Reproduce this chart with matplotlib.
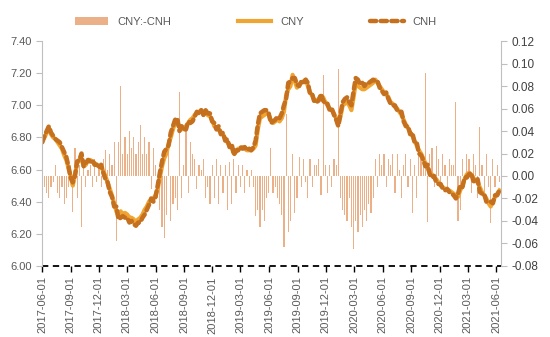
import matplotlib
matplotlib.use("Agg")
import matplotlib.pyplot as plt
import matplotlib.dates as mdates
from matplotlib.ticker import MultipleLocator, FormatStrFormatter
import pandas as pd

plt.rcParams["font.family"] = ["Liberation Sans", "DejaVu Sans"]
plt.rcParams["axes.unicode_minus"] = False

# 周度数据, 2017-06-02 起 (每周五)
cny = [
    # 2017
    6.78, 6.80, 6.83, 6.86, 6.82,
    6.80, 6.79, 6.77, 6.75,
    6.73, 6.69, 6.66, 6.61,
    6.56, 6.50, 6.57, 6.64, 6.66,
    6.67, 6.62, 6.63, 6.66,
    6.66, 6.65, 6.64, 6.63,
    6.62, 6.62, 6.59, 6.56, 6.52,
    # 2018
    6.48, 6.44, 6.39, 6.34,
    6.31, 6.34, 6.32, 6.33,
    6.32, 6.30, 6.30, 6.29, 6.27,
    6.29, 6.30, 6.32, 6.35,
    6.37, 6.40, 6.41, 6.42,
    6.44, 6.48, 6.55, 6.62, 6.67,
    6.70, 6.76, 6.80, 6.85,
    6.89, 6.90, 6.86, 6.85, 6.86,
    6.87, 6.89, 6.91, 6.92,
    6.94, 6.95, 6.96, 6.97,
    6.95, 6.95, 6.94, 6.93, 6.91,
    6.87, 6.86, 6.85, 6.83,
    # 2019
    6.82, 6.79, 6.77, 6.75,
    6.74, 6.70, 6.71, 6.73,
    6.73, 6.74, 6.73, 6.72, 6.72,
    6.72, 6.73, 6.75, 6.85,
    6.92, 6.93, 6.94, 6.95, 6.94,
    6.91, 6.89, 6.90, 6.91,
    6.90, 6.92, 6.96, 7.06,
    7.10, 7.12, 7.19, 7.15, 7.11,
    7.13, 7.14, 7.15, 7.16,
    7.12, 7.08, 7.06, 7.03,
    7.03, 7.04, 7.06, 7.05, 7.02,
    7.00, 6.98, 6.97, 6.95,
    # 2020
    6.92, 6.89, 6.93, 7.00, 7.01,
    7.02, 7.00, 6.97, 7.05,
    7.14, 7.12, 7.11, 7.10,
    7.10, 7.11, 7.12, 7.13,
    7.14, 7.16, 7.14, 7.12, 7.10,
    7.08, 7.07, 7.05, 7.02,
    7.01, 6.99, 6.98, 6.96, 6.94,
    6.91, 6.88, 6.86, 6.83,
    6.81, 6.78, 6.75, 6.72,
    6.70, 6.67, 6.64, 6.61, 6.58,
    6.57, 6.55, 6.54, 6.52,
    6.50, 6.49, 6.48, 6.47,
    # 2021
    6.47, 6.46, 6.45, 6.44, 6.43,
    6.47, 6.50, 6.54, 6.57,
    6.58, 6.57, 6.55, 6.53,
    6.52, 6.49, 6.46, 6.44, 6.42,
    6.39, 6.37, 6.40, 6.43,
    6.45, 6.47,
]

cnh = [
    # 2017
    6.77, 6.81, 6.84, 6.87, 6.83,
    6.81, 6.79, 6.78, 6.77,
    6.74, 6.71, 6.68, 6.62,
    6.55, 6.52, 6.56, 6.65, 6.66,
    6.70, 6.62, 6.64, 6.66,
    6.65, 6.66, 6.63, 6.63,
    6.61, 6.63, 6.58, 6.54, 6.52,
    # 2018
    6.46, 6.43, 6.37, 6.37,
    6.29, 6.30, 6.31, 6.30,
    6.30, 6.27, 6.28, 6.26, 6.25,
    6.27, 6.27, 6.30, 6.32,
    6.35, 6.38, 6.42, 6.40,
    6.43, 6.50, 6.58, 6.65, 6.71,
    6.73, 6.75, 6.83, 6.87,
    6.91, 6.92, 6.84, 6.87, 6.85,
    6.85, 6.90, 6.89, 6.90,
    6.93, 6.96, 6.95, 6.97,
    6.94, 6.97, 6.95, 6.95, 6.90,
    6.89, 6.85, 6.87, 6.82,
    # 2019
    6.83, 6.78, 6.79, 6.74,
    6.76, 6.69, 6.72, 6.72,
    6.74, 6.73, 6.74, 6.72, 6.73,
    6.72, 6.74, 6.78, 6.88,
    6.95, 6.96, 6.97, 6.97, 6.95,
    6.89, 6.90, 6.91, 6.93,
    6.92, 6.95, 7.00, 7.04,
    7.14, 7.15, 7.17, 7.17, 7.13,
    7.12, 7.15, 7.14, 7.16,
    7.14, 7.07, 7.07, 7.02,
    7.02, 7.03, 7.07, 7.03, 7.01,
    7.01, 6.97, 6.98, 6.94,
    # 2020
    6.91, 6.87, 6.95, 7.02, 7.04,
    7.05, 7.02, 7.00, 7.09,
    7.17, 7.16, 7.13, 7.14,
    7.12, 7.14, 7.14, 7.15,
    7.16, 7.15, 7.15, 7.11, 7.09,
    7.07, 7.08, 7.04, 7.01,
    7.00, 7.00, 6.97, 6.96, 6.96,
    6.90, 6.87, 6.87, 6.82,
    6.83, 6.77, 6.77, 6.70,
    6.69, 6.66, 6.62, 6.63, 6.57,
    6.55, 6.56, 6.52, 6.51,
    6.51, 6.48, 6.47, 6.48,
    # 2021
    6.46, 6.45, 6.44, 6.42, 6.45,
    6.50, 6.49, 6.55, 6.55,
    6.57, 6.58, 6.53, 6.52,
    6.54, 6.46, 6.45, 6.45, 6.40,
    6.40, 6.40, 6.39, 6.44,
    6.44, 6.47,
]

# CNY-CNH 价差 (右轴)
spread = [
    # 2017
    0.060, -0.010, -0.015, -0.020, -0.010,
    -0.005, 0.010, -0.015, -0.020,
    -0.010, -0.025, -0.020, -0.010,
    0.010, -0.032, 0.025, -0.020, 0.010,
    -0.045, 0.010, -0.010, 0.005,
    0.010, -0.010, 0.015, -0.005,
    0.010, -0.010, 0.015, 0.023, 0.005,
    # 2018
    0.020, 0.010, 0.030, -0.058,
    0.030, 0.080, 0.020, 0.035,
    0.020, 0.040, 0.025, 0.035, 0.020,
    0.030, 0.045, 0.020, 0.035,
    0.020, 0.030, -0.012, 0.025,
    0.010, -0.020, -0.030, -0.045, -0.055,
    -0.035, 0.023, -0.040, -0.025,
    -0.020, -0.030, 0.075, -0.020, 0.010,
    0.045, -0.015, 0.030, 0.020,
    0.015, -0.012, 0.010, 0.005,
    0.015, -0.020, -0.010, -0.025, 0.010,
    -0.020, 0.015, -0.025, 0.010,
    # 2019
    -0.015, 0.010, -0.030, 0.012,
    -0.025, 0.015, -0.015, 0.010,
    -0.010, 0.010, -0.015, 0.005, -0.010,
    0.005, -0.010, -0.036, -0.030,
    -0.045, -0.030, -0.040, -0.020, -0.015,
    0.025, -0.015, -0.010, -0.020,
    -0.025, -0.035, -0.063, 0.055,
    -0.050, -0.040, 0.020, -0.033, -0.020,
    0.017, -0.010, 0.015, -0.005,
    -0.020, 0.015, -0.010, 0.010,
    0.010, 0.015, -0.017, 0.090, 0.010,
    -0.015, 0.010, -0.010, 0.015,
    # 2020
    0.010, 0.095, -0.020, -0.030, -0.035,
    -0.040, -0.020, -0.045, -0.065,
    -0.040, -0.050, -0.035, -0.045,
    -0.030, -0.040, -0.025, -0.033,
    -0.020, 0.015, -0.010, 0.020, 0.010,
    0.020, -0.010, 0.015, 0.010,
    0.020, -0.015, 0.020, 0.005, -0.020,
    0.010, 0.020, -0.010, 0.015,
    -0.033, 0.010, -0.020, 0.020,
    0.015, 0.010, 0.092, -0.041, 0.020,
    0.025, -0.010, 0.027, 0.015,
    -0.010, 0.020, 0.010, -0.010,
    # 2021
    0.015, 0.010, 0.010, 0.066, -0.040,
    -0.030, 0.015, -0.010, 0.020,
    0.015, -0.015, 0.020, 0.010,
    -0.020, 0.044, 0.010, -0.015, 0.020,
    -0.010, -0.042, 0.015, -0.010,
    0.010, -0.005,
]

dates = pd.date_range("2017-06-02", periods=len(cny), freq="W-FRI")

bar_color = "#EBB088"
cny_color = "#F0A532"
cnh_color = "#C4701F"

fig = plt.figure(figsize=(5.5, 3.37), dpi=100)
ax = fig.add_axes([0.0764, 0.211, 0.835, 0.667])
ax2 = ax.twinx()

# 价差柱 (右轴), 放在折线下面
ax2.bar(dates, spread, width=3.8, color=bar_color, linewidth=0, label="CNY:-CNH")
ax.set_zorder(ax2.get_zorder() + 1)
ax.patch.set_visible(False)

ax.plot(dates, cny, color=cny_color, lw=3.0, label="CNY")
ax.plot(dates, cnh, color=cnh_color, lw=3.2, ls=(0, (1.4, 1.0)),
        dash_capstyle="round", label="CNH")
ax.axhline(6.0, color="black", lw=1.3, ls=(0, (3.5, 2.5)), clip_on=False)

ax.set_ylim(6.0, 7.4)
ax.yaxis.set_major_locator(MultipleLocator(0.2))
ax.yaxis.set_major_formatter(FormatStrFormatter("%.2f"))
ax2.set_ylim(-0.08, 0.12)
ax2.yaxis.set_major_locator(MultipleLocator(0.02))
ax2.yaxis.set_major_formatter(FormatStrFormatter("%.2f"))

ax.set_xlim(pd.Timestamp("2017-06-01"), pd.Timestamp("2021-06-17"))
ax.xaxis.set_major_locator(mdates.MonthLocator(bymonth=[3, 6, 9, 12]))
ax.xaxis.set_major_formatter(mdates.DateFormatter("%Y-%m-%d"))
plt.setp(ax.get_xticklabels(), rotation=90)

for a in (ax, ax2):
    for s in ("top", "bottom"):
        a.spines[s].set_visible(False)
    a.spines["left"].set_color("#BFBFBF")
    a.spines["right"].set_color("#BFBFBF")
ax2.spines["left"].set_visible(False)
ax.spines["right"].set_visible(False)

ax.tick_params(axis="y", colors="#BFBFBF", labelcolor="#595959", labelsize=8, length=4)
ax2.tick_params(axis="y", colors="#BFBFBF", labelcolor="#404040", labelsize=8.5, length=4)
ax.tick_params(axis="x", colors="black", labelcolor="#595959", labelsize=8, length=4, width=1)

h1, l1 = ax2.get_legend_handles_labels()
h2, l2 = ax.get_legend_handles_labels()
fig.legend(h1 + h2, l1 + l2, loc="center", bbox_to_anchor=(0.465, 0.935), ncol=3,
           frameon=False, fontsize=8, handlelength=3.0, columnspacing=6,
           labelcolor="#595959")

fig.savefig("out.png", dpi=100)
